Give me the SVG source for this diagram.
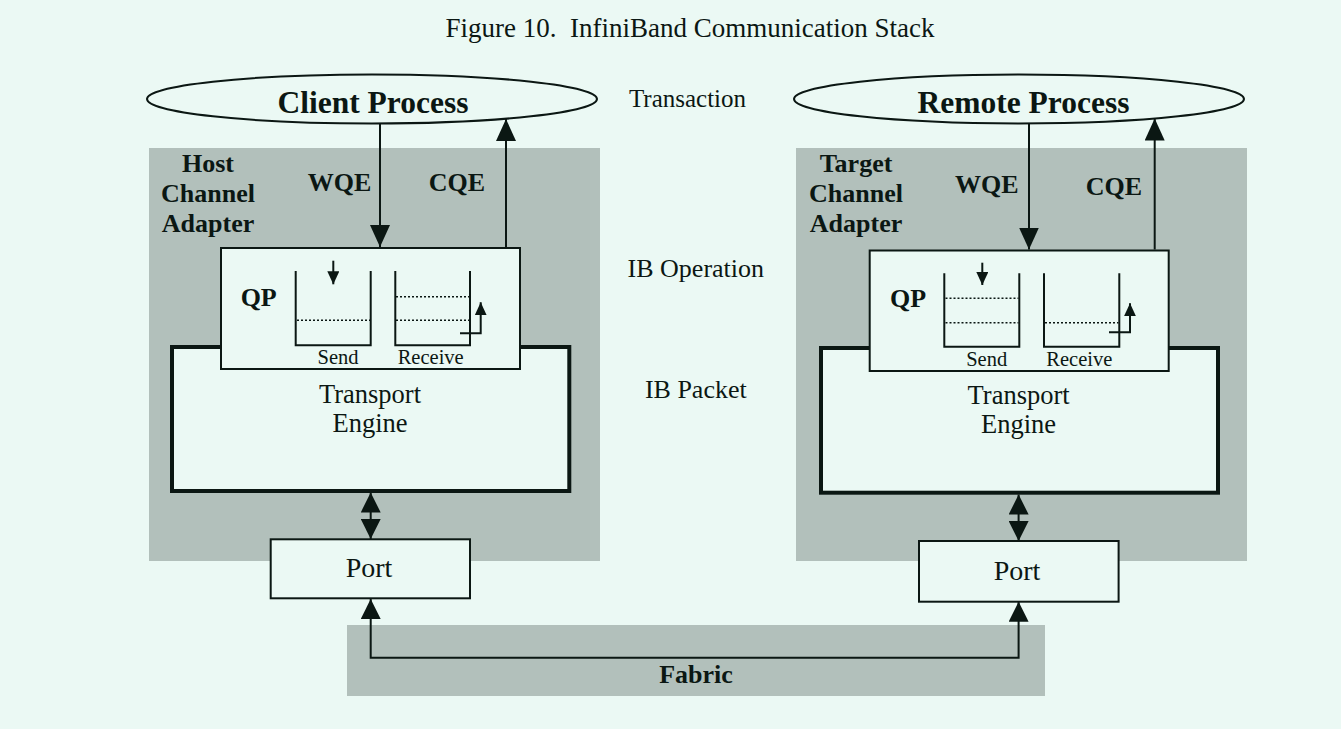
<svg xmlns="http://www.w3.org/2000/svg" width="1341" height="729" viewBox="0 0 1341 729">
<style>
text{font-family:"Liberation Serif","Times New Roman",serif;fill:#0b1713;text-anchor:middle}
.b{font-weight:bold}
.panel{fill:#b2c0bb}
.box{fill:#ebf9f4;stroke:#0b1713;stroke-width:2}
.thick{fill:#ebf9f4;stroke:#0b1713;stroke-width:4}
.ln{fill:none;stroke:#0b1713;stroke-width:2}
.dot{fill:none;stroke:#0b1713;stroke-width:1.5;stroke-dasharray:2 2}
</style>
<defs>
<marker id="ah" markerUnits="userSpaceOnUse" markerWidth="22" markerHeight="20" viewBox="0 0 22 20" refX="22" refY="10" orient="auto-start-reverse"><path d="M0,0 L22,10 L0,20 z" fill="#0b1713"/></marker>
<marker id="ah2" markerUnits="userSpaceOnUse" markerWidth="20" markerHeight="20" viewBox="0 0 20 20" refX="20" refY="10" orient="auto-start-reverse"><path d="M0,0 L20,10 L0,20 z" fill="#0b1713"/></marker>
<marker id="sa" markerUnits="userSpaceOnUse" markerWidth="13" markerHeight="12" viewBox="0 0 13 12" refX="13" refY="6" orient="auto"><path d="M0,0 L13,6 L0,12 z" fill="#0b1713"/></marker>
</defs>
<rect width="1341" height="729" fill="#ebf9f4"/>
<text x="690" y="36.7" font-size="27" xml:space="preserve">Figure 10.  InfiniBand Communication Stack</text>
<text x="687.5" y="107.3" font-size="25">Transaction</text>
<text x="695.8" y="276.7" font-size="26">IB Operation</text>
<text x="695.8" y="398.3" font-size="26">IB Packet</text>

<g id="fabric">
<rect class="panel" x="347" y="625" width="698" height="71"/>
<text class="b" x="696" y="683.3" font-size="26">Fabric</text>
</g>

<g id="hca">
<rect class="panel" x="149" y="148" width="451" height="413"/>
<text class="b" x="208" y="171.7" font-size="26">Host</text>
<text class="b" x="208" y="201.7" font-size="26">Channel</text>
<text class="b" x="208" y="231.7" font-size="26">Adapter</text>
</g>
<g id="tca">
<rect class="panel" x="796" y="148" width="451" height="413"/>
<text class="b" x="856" y="171.7" font-size="26">Target</text>
<text class="b" x="856" y="201.7" font-size="26">Channel</text>
<text class="b" x="856" y="231.7" font-size="26">Adapter</text>
</g>

<g id="client-process">
<ellipse class="box" cx="372" cy="99" rx="225" ry="24.5"/>
<text class="b" x="373" y="112.7" font-size="31.5">Client Process</text>
</g>
<g id="remote-process">
<ellipse class="box" cx="1019" cy="99" rx="225" ry="24.5"/>
<text class="b" x="1023.5" y="112.7" font-size="31.5">Remote Process</text>
</g>

<g id="transport-left">
<rect class="thick" x="172" y="347" width="397.3" height="144"/>
<text x="370" y="402.7" font-size="26.5">Transport</text>
<text x="370" y="431.7" font-size="26.5">Engine</text>
</g>
<g id="transport-right">
<rect class="thick" x="821" y="348" width="397" height="144.7"/>
<text x="1018.6" y="404.3" font-size="26.5">Transport</text>
<text x="1018.6" y="433.3" font-size="26.5">Engine</text>
</g>

<g id="qp-left">
<rect class="box" x="221" y="248" width="299" height="121"/>
<text class="b" x="258.7" y="306" font-size="26">QP</text>
<path class="ln" d="M295.7,271 V345.3 H370.7 V271"/>
<path class="ln" d="M395.3,271 V345.3 H470 V271"/>
<line class="dot" x1="297" y1="320.3" x2="370" y2="320.3"/>
<line class="dot" x1="396" y1="296.7" x2="469" y2="296.7"/>
<line class="dot" x1="396" y1="320.3" x2="469" y2="320.3"/>
<line class="ln" x1="333.3" y1="260.7" x2="333.3" y2="284.3" marker-end="url(#sa)"/>
<polyline class="ln" points="460,333.3 480.7,333.3 480.7,302.3" marker-end="url(#sa)"/>
<text x="338" y="364" font-size="20.5">Send</text>
<text x="430.7" y="364" font-size="20.5">Receive</text>
</g>
<g id="qp-right">
<rect class="box" x="869.7" y="250.5" width="299" height="120.5"/>
<text class="b" x="908" y="307.3" font-size="26">QP</text>
<path class="ln" d="M944.3,273.3 V346.7 H1019.3 V273.3"/>
<path class="ln" d="M1044,273.3 V346.7 H1119.3 V273.3"/>
<line class="dot" x1="945.5" y1="298.3" x2="1018.5" y2="298.3"/>
<line class="dot" x1="945.5" y1="322.7" x2="1018.5" y2="322.7"/>
<line class="dot" x1="1045" y1="322.7" x2="1118.5" y2="322.7"/>
<line class="ln" x1="982.3" y1="262.7" x2="982.3" y2="285" marker-end="url(#sa)"/>
<polyline class="ln" points="1109,332.3 1130,332.3 1130,303.3" marker-end="url(#sa)"/>
<text x="986.7" y="366" font-size="20.5">Send</text>
<text x="1079.3" y="366" font-size="20.5">Receive</text>
</g>

<g id="port-left">
<rect class="box" x="270.7" y="539.3" width="199.3" height="59"/>
<text x="369" y="576.7" font-size="28">Port</text>
</g>
<g id="port-right">
<rect class="box" x="919" y="541" width="199.6" height="60.7"/>
<text x="1017" y="580" font-size="28">Port</text>
</g>

<g id="connectors">
<line class="ln" x1="380" y1="123.5" x2="380" y2="247" marker-end="url(#ah)"/>
<text class="b" x="339.5" y="190.7" font-size="26">WQE</text>
<line class="ln" x1="506" y1="247" x2="506" y2="119" marker-end="url(#ah)"/>
<text class="b" x="457" y="190.7" font-size="26">CQE</text>
<line class="ln" x1="1029" y1="123.5" x2="1029" y2="249.5" marker-end="url(#ah)"/>
<text class="b" x="986.7" y="192.7" font-size="26">WQE</text>
<line class="ln" x1="1154.7" y1="249.5" x2="1154.7" y2="118.5" marker-end="url(#ah)"/>
<text class="b" x="1113.8" y="195" font-size="26">CQE</text>
<line class="ln" x1="370.7" y1="492.5" x2="370.7" y2="539" marker-start="url(#ah2)" marker-end="url(#ah2)"/>
<line class="ln" x1="1018.6" y1="494.5" x2="1018.6" y2="541" marker-start="url(#ah2)" marker-end="url(#ah2)"/>
<path class="ln" d="M370.7,599 V657.7 H1018.6 V601.7" marker-start="url(#ah2)" marker-end="url(#ah2)"/>
</g>
</svg>
